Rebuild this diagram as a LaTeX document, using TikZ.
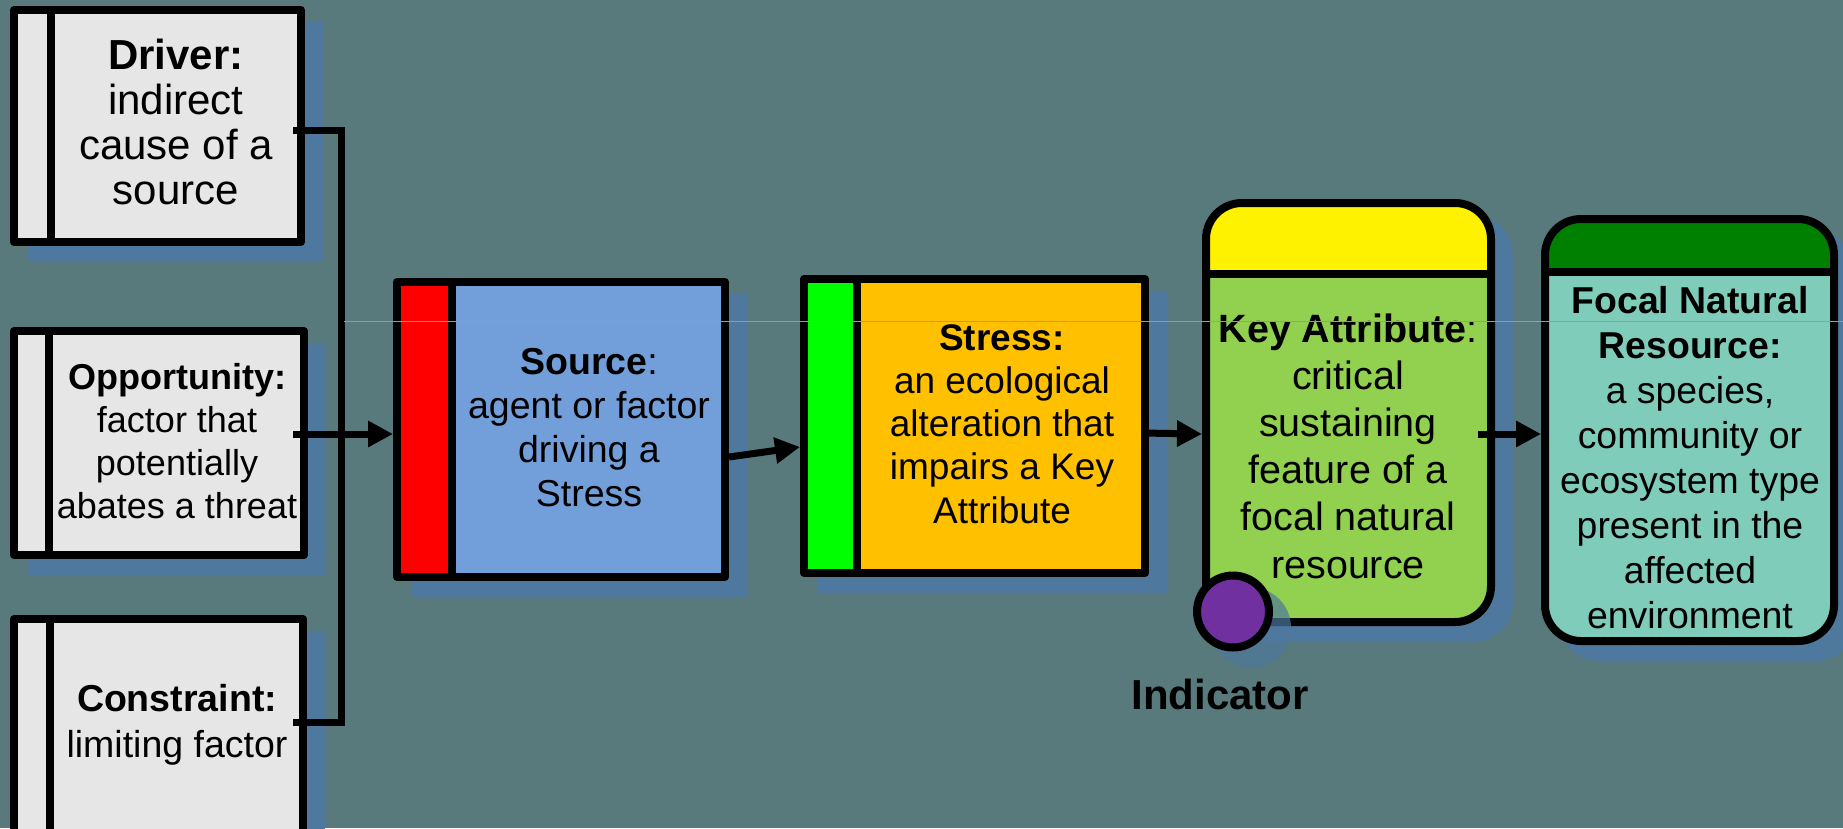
\documentclass[tikz,border=0pt]{standalone}
\usepackage{fontspec}
\setmainfont{Liberation Sans}
\usetikzlibrary{arrows.meta,calc}
\pgfdeclarelayer{bgl}
\pgfdeclarelayer{shl}
\pgfsetlayers{bgl,shl,main}
\definecolor{bgc}{RGB}{88,122,124}
\definecolor{shc}{RGB}{78,120,158}
\definecolor{grayf}{RGB}{230,230,230}
\definecolor{srcf}{RGB}{114,159,218}
\definecolor{strf}{RGB}{255,192,0}
\definecolor{keyf}{RGB}{146,208,80}
\definecolor{focf}{RGB}{128,204,186}
\definecolor{dgreen}{RGB}{0,128,0}
\definecolor{purp}{RGB}{112,48,160}
\definecolor{hlinec}{RGB}{140,160,165}
\begin{document}
\begin{tikzpicture}[x=1pt,y=-1pt,
  box/.style={draw=black,line width=8pt,line join=round,inner sep=0pt,outer sep=4pt},
  stripbox/.style n args={3}{box,fill=#1,path picture={
     \fill[#2] (path picture bounding box.north west) rectangle ([xshift=#3]path picture bounding box.south west);
     \draw[line width=8pt] ([xshift=#3]path picture bounding box.north west) -- ([xshift=#3]path picture bounding box.south west);}},
  hdrbox/.style n args={3}{box,rounded corners=36pt,fill=#1,path picture={
     \fill[#2,sharp corners] (path picture bounding box.north west) rectangle ([yshift=-#3]path picture bounding box.north east);
     \draw[line width=8pt,sharp corners] ([yshift=-#3]path picture bounding box.north west) -- ([yshift=-#3]path picture bounding box.north east);}},
  txt/.style 2 args={align=center,inner sep=0pt,outer sep=0pt,font=\fontsize{#1}{#2}\selectfont},
  conn/.style={draw=black,line width=7pt},
  arr/.style={conn,-{Triangle[length=25pt,width=25pt]}}
]
\path[use as bounding box] (0,0) rectangle (1843,828);
\begin{pgfonlayer}{bgl}
\fill[bgc] (0,0) rectangle (1843,828);
\end{pgfonlayer}

% boxes
\node[stripbox={grayf}{grayf}{37pt}, minimum width=287pt, minimum height=232pt] (drv) at (157.5,126) {};
\node[stripbox={grayf}{grayf}{35pt}, minimum width=290pt, minimum height=224pt] (opp) at (159,443) {};
\node[stripbox={grayf}{grayf}{35.5pt}, minimum width=289pt, minimum height=241pt] (con) at (158.5,739.5) {};
\node[stripbox={srcf}{red}{55pt}, minimum width=328pt, minimum height=295pt] (src) at (561,429.5) {};
\node[stripbox={strf}{green}{53pt}, minimum width=341pt, minimum height=294pt] (str) at (974.5,426) {};
\node[hdrbox={keyf}{yellow}{71pt}, minimum width=285pt, minimum height=419pt] (key) at (1348.5,412.5) {};
\node[hdrbox={focf}{dgreen}{53pt}, minimum width=289pt, minimum height=422pt] (foc) at (1689.5,430) {};

% shadows
\begin{pgfonlayer}{shl}
\foreach \n in {drv,opp,con,src,str}{
  \fill[shc] ([shift={(18pt,-16pt)}]\n.north west) rectangle ([shift={(18pt,-16pt)}]\n.south east);}
\foreach \n in {key,foc}{
  \fill[shc,rounded corners=40pt] ([shift={(18pt,-16pt)}]\n.north west) rectangle ([shift={(18pt,-16pt)}]\n.south east);}
\end{pgfonlayer}

% texts
\node[txt={42}{44.7}] (drvt) at (176,128.1) {\strut\textbf{Driver:}\\\strut indirect\\\strut cause of a\\\strut source};
\node[txt={36}{43}] (oppt) at (177,444.9) {\strut\textbf{Opportunity:}\\\strut factor that\\\strut potentially\\\strut abates a threat};
\node[txt={37.5}{46}] (cont) at (177,724.8) {\strut\textbf{Constraint:}\\\strut limiting factor};
\node[txt={37.5}{44}] (srct) at (589,431.2) {\strut\textbf{Source}:\\\strut agent or factor\\\strut driving a\\\strut Stress};
\node[txt={37}{43.3}] (strt) at (1002,428) {\strut\textbf{Stress:}\\\strut an ecological\\\strut alteration that\\\strut impairs a Key\\\strut Attribute};
\node[txt={39.5}{47.2}] (keyt) at (1348,450.6) {\strut\textbf{Key Attribute}:\\\strut critical\\\strut sustaining\\\strut feature of a\\\strut focal natural\\\strut resource};
\node[txt={37.4}{45}] (foct) at (1690,461.5) {\strut\textbf{Focal Natural}\\\strut\textbf{Resource:}\\\strut a species,\\\strut community or\\\strut ecosystem type\\\strut present in the\\\strut affected\\\strut environment};

% connectors
\coordinate (bus) at (341,434);
\draw[conn] ([shift={(-12pt,-4pt)}]drv.east) -| (bus);
\draw[conn] ([shift={(-14pt,17.5pt)}]con.east) -| (bus);
\draw[arr] ([shift={(-15pt,9pt)}]opp.east) -- ([yshift=-4.5pt]src.west);
\draw[arr] ([yshift=-27.5pt]src.east) -- ([yshift=-21pt]str.west);
\draw[arr] ([shift={(-7pt,-7pt)}]str.east) -- ([yshift=-21.5pt]key.west);
\draw[arr] ([shift={(-17pt,-21.5pt)}]key.east) -- ([yshift=-4pt]foc.west);

% indicator
\coordinate (indc) at (1233,611.5);
\fill[shc,opacity=0.7] ([shift={(18pt,-16pt)}]indc) circle[radius=40pt];
\node[circle,draw=black,line width=8pt,fill=purp,minimum size=72pt,inner sep=0pt] (ind) at (indc) {};
\node[font=\bfseries\fontsize{42}{50}\selectfont,anchor=base,inner sep=0pt] (indl) at (1220,709) {Indicator};

% thin artefact line
\coordinate (hl1) at (344,321.5);
\coordinate (hl2) at (1843,321.5);
\draw[hlinec,line width=1.3pt] (hl1) -- (hl2);
\end{tikzpicture}
\end{document}
